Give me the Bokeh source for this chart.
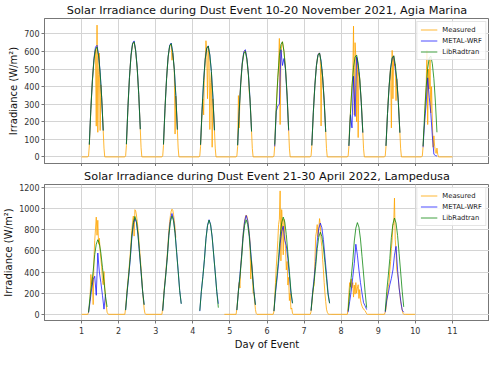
import numpy as np
from bokeh.plotting import figure
from bokeh.layouts import column
from bokeh.models import Range1d, FixedTicker, Legend, LegendItem, ColumnDataSource, Title
from bokeh.embed import file_html
from bokeh.resources import INLINE

NaN = float("nan")

# ---------------- Agia Marina, 10-20 November 2021 ----------------
AM_TITLE = "Solar Irradiance during Dust Event 10-20 November 2021, Agia Marina"
AM_DAYS = [1, 2, 3, 4, 5, 6, 7, 8, 9, 10]
AM_START, AM_END = 1.0, 11.0
AM_MODEL_HOURS = [5, 6, 7, 8, 9, 10, 11, 12, 13, 14]
AM_MEAS_HOURS = [4.0, 4.5, 5.0, 5.5, 6.0, 6.5, 7.0, 7.5, 8.0, 8.5, 9.0, 9.5,
                 10.0, 10.5, 11.0, 11.5, 12.0, 12.5, 13.0, 13.5, 14.0, 14.5, 15.0, 15.5]

AM_LIBRADTRAN = [
    [69, 269, 431, 550, 613, 625, 575, 481, 338, 150],
    [72, 282, 452, 576, 642, 655, 603, 504, 354, 157],
    [71, 277, 445, 568, 632, 645, 593, 497, 348, 155],
    [69, 271, 435, 554, 617, 630, 580, 485, 340, 151],
    [66, 258, 414, 528, 588, 600, 552, 462, 324, 144],
    [70, 280, 450, 575, 640, 655, 600, 500, 352, 155],
    [65, 254, 407, 519, 578, 590, 543, 454, 319, 142],
    [64, 249, 400, 510, 568, 580, 534, 447, 313, 139],
    [63, 247, 397, 506, 564, 575, 529, 443, 311, 138],
    [62, 245, 395, 505, 563, 574, 530, 445, 312, 140],
]
AM_METAL = [
    [72, 275, 438, 560, 625, 635, 580, 485, 340, 150],
    [73, 284, 455, 580, 647, 660, 607, 508, 356, 158],
    [71, 279, 447, 570, 635, 648, 596, 499, 350, 156],
    [69, 272, 436, 556, 620, 632, 580, 486, 341, 152],
    [67, 262, 421, 537, 598, 610, 561, 470, 329, 146],
    [60, 260, 290, 300, 610, 520, 560, 495, 345, 150],
    [66, 256, 410, 522, 582, 592, 545, 456, 320, 143],
    [62, 240, 165, 459, 230, 570, 520, 440, 310, 138],
    [63, 248, 398, 505, 560, 575, 500, 442, 310, 138],
    [55, 200, 300, 450, 340, 250, 120, 15, 8, 5],
]
AM_MEASURED = [
    [0, 5, 62, 170, 270, 365, 435, 500, 550, 590, 610, 175, 750, 140, 470, 590, 150, 410, 335, 250, 150, 50, 0, 0],
    [0, 6, 64, 175, 280, 378, 450, 521, 573, 613, 639, 652, 652, 632, 600, 554, 502, 430, 352, 260, 156, 52, 0, 0],
    [0, 6, 64, 173, 275, 371, 442, 512, 563, 602, 627, 640, 638, 550, 590, 544, 493, 130, 346, 256, 154, 51, 0, 0],
    [0, 5, 60, 165, 259, 330, 239, 480, 550, 661, 600, 331, 630, 551, 156, 423, 480, 55, 330, 245, 150, 50, 0, 0],
    [0, 5, 60, 349, 165, 350, 415, 485, 530, 570, 592, 605, 600, 585, 555, 515, 465, 369, 330, 245, 145, 48, 0, 0],
    [0, 5, 62, 175, 280, 375, 450, 520, 674, 184, 570, 640, 655, 630, 600, 550, 500, 430, 350, 260, 155, 50, 0, 0],
    [0, 5, 58, 160, 254, 342, 407, 472, 519, 555, 578, 590, 590, 572, 176, 500, 454, 389, 319, 236, 142, 47, 0, 0],
    [0, 5, 58, 184, 249, 330, 400, 460, 744, 239, 650, 570, 200, 560, 110, 480, 447, 380, 313, 232, 139, 46, 0, 0],
    [0, 5, 57, 155, 247, 333, 397, 460, 506, 165, 606, 331, 575, 520, 529, 320, 443, 380, 311, 230, 138, 46, 0, 0],
    [0, 5, 55, 150, 184, 330, 400, 606, 184, 500, 386, 560, 250, 400, 200, 55, 120, 60, 30, 20, 50, 15, 0, 0],
]
AM_YLIM = (-37.5, 787.5)
AM_YTICKS = [0, 100, 200, 300, 400, 500, 600, 700]

# ---------------- Lampedusa, 21-30 April 2022 ----------------
LP_TITLE = "Solar Irradiance during Dust Event 21-30 April 2022, Lampedusa"
LP_DAYS = [1, 2, 3, 4, 5, 6, 7, 8, 9]
LP_START, LP_END = 1.0, 10.0
LP_RESUME = [(4.85, 0)]   # measurements restart after the data gap
LP_MODEL_HOURS = [4.5, 5.5, 6.5, 7.5, 8.5, 9.5, 10.5, 11.5, 12.5, 13.5, 14.5, 15.5, 16.5]
LP_MEAS_HOURS = [4.0, 4.5, 5.0, 5.5, 6.0, 6.5, 7.0, 7.5, 8.0, 8.5, 9.0, 9.5, 10.0, 10.5,
                 11.0, 11.5, 12.0, 12.5, 13.0, 13.5, 14.0, 14.5, 15.0, 15.5, 16.0, 16.5, 17.0, 17.5]

LP_LIBRADTRAN = [
    [20, 169, 282, 409, 565, 664, 706, 671, 579, 445, 311, 169, 70],
    [40, 222, 370, 537, 741, 870, 926, 880, 759, 583, 407, 222, 90],
    [35, 223, 372, 539, 744, 874, 930, 884, 763, 586, 409, 223, 100],
    [34, 214, 356, 517, 713, 838, 891, 846, 731, 561, 392, 214, 63],
    [40, 215, 358, 519, 716, 841, 895, 850, 734, 564, 394, 215, 90],
    [30, 221, 368, 534, 736, 865, 920, 874, 754, 580, 405, 221, 105],
    [35, 186, 311, 451, 622, 730, 777, 738, 637, 490, 342, 186, 105],
    [34, 208, 347, 503, 694, 816, 868, 825, 712, 547, 382, 208, 63],
    [30, 219, 364, 528, 729, 856, 911, 865, 747, 574, 401, 219, 70],
]
LP_METAL = [
    [15, 120, 240, 330, 360, 180, 580, 400, 300, 180, 49, 190, NaN],
    [40, 210, 360, 520, 720, 850, 906, 870, 750, 575, 400, 215, 92],
    [34, 225, 380, 550, 760, 895, 954, 900, 775, 595, 415, 225, 100],
    [30, 215, 358, 520, 716, 842, 895, 850, 734, 564, 394, 215, 100],
    [40, 224, 374, 542, 748, 879, 935, 888, 767, 589, 411, 224, 90],
    [30, 200, 334, 484, 667, 784, 834, 700, 650, 525, 367, 200, 105],
    [35, 207, 345, 500, 690, 811, 863, 820, 708, 544, 380, 207, 105],
    [20, 120, 220, 350, 480, 663, 560, 420, 300, 200, 110, 80, 45],
    [20, 134, 200, 280, 340, 420, 560, 643, 420, 250, 134, 40, 20],
]
LP_MEASURED = [
    [0, 20, 80, 150, 377, 280, 350, 92, 520, 700, 806, 920, 748, 890, 663, 720, 600, 520, 450, 320, 280, 405, 250, 148, 80, 20, 5, 0],
    [0, 59, 149, 238, 317, 396, 485, 574, 683, 792, 871, 930, 740, 990, 980, 940, 881, 812, 723, 624, 535, 436, 327, 218, 129, 50, 10, 0],
    [0, 60, 149, 239, 318, 398, 488, 577, 687, 796, 876, 935, 975, 995, 985, 945, 886, 816, 726, NaN, NaN, NaN, NaN, NaN, NaN, NaN, NaN, NaN],
    None,
    [0, 56, 141, 226, 301, 249, 461, 545, 649, 752, 827, 884, 921, 940, 931, 893, 837, 771, 686, 334, 508, 414, 200, 207, 122, 47, 9, 0],
    [0, 30, 150, 300, 450, 563, 700, 849, 900, 1168, 506, 991, 850, 563, 900, 763, 620, 420, 500, 277, 350, 130, 200, 49, 60, 10, 0, 0],
    [0, 25, 100, 180, 250, 277, 500, 735, 780, 849, 734, 800, 906, 850, 700, 640, 520, 420, 300, 200, 120, 49, 20, 5, 0, 0, 0, 0],
    [0, 60, 200, 300, 260, 334, 250, 300, 163, 277, 191, 300, 200, 249, 280, 150, 234, 134, 100, 77, 60, 50, 40, 34, 20, 5, 0, 0],
    [0, 20, 50, 120, 191, 260, 300, 420, 500, 620, 700, 849, 850, 1100, 706, 600, 420, 380, 334, 250, 191, 120, 77, 40, 10, 0, 0, 0],
]
LP_YLIM = (-58.5, 1228.5)
LP_YTICKS = [0, 200, 400, 600, 800, 1000, 1200]

X_TICKS = [1, 2, 3, 4, 5, 6, 7, 8, 9, 10, 11]
X_RANGE = (0, 12)
X_LABEL = "Day of Event"
Y_LABEL = "Irradiance (W/m²)"
SERIES_LABELS = ["Measured", "METAL-WRF", "LibRadtran"]
COLORS = ["#FFA500", "#0000FF", "#008000"]
ALPHAS = [0.8, 0.7, 0.75]
FONT = "DejaVu Sans"


def model_xy(days, hours, values):
    xs, ys = [], []
    for d, vals in zip(days, values):
        for h, v in zip(hours, vals):
            xs.append(d + h / 24.0)
            ys.append(v)
        xs.append(NaN)
        ys.append(NaN)
    return np.array(xs, dtype=float), np.array(ys, dtype=float)


def measured_xy(days, hours, values, start, end, extra=()):
    pts = [(start, 0.0), (end, 0.0)] + [(float(a), float(b)) for a, b in extra]
    for d, vals in zip(days, values):
        if vals is None:
            continue
        for h, v in zip(hours, vals):
            pts.append((d + h / 24.0, v))
    pts.sort(key=lambda t: t[0])
    xs = np.array([p[0] for p in pts], dtype=float)
    ys = np.array([p[1] for p in pts], dtype=float)
    return xs, ys


def make_panel(title, days, mhours, meas_hours, lib, metal, meas, start, end,
               ylim, yticks, height, show_xlabels, extra=()):
    p = figure(width=489, height=height, x_range=Range1d(*X_RANGE),
               y_range=Range1d(*ylim), output_backend="svg",
               toolbar_location=None, title=title,
               min_border_left=34, min_border_right=0, min_border_top=1,
               min_border_bottom=0)
    p.background_fill_color = "white"
    p.border_fill_color = "white"
    p.outline_line_color = "#777777"
    p.outline_line_width = 1

    p.title.text_font = FONT
    p.title.text_font_size = "11.3px"
    p.title.text_font_style = "normal"
    p.title.text_color = "#111111"
    p.title.align = "center"
    p.title.standoff = 3

    p.xaxis.ticker = FixedTicker(ticks=X_TICKS)
    p.yaxis.ticker = FixedTicker(ticks=yticks)
    for ax in (p.xaxis[0], p.yaxis[0]):
        ax.axis_line_color = "#777777"
        ax.major_tick_line_color = "#777777"
        ax.minor_tick_line_color = None
        ax.major_tick_in = 0
        ax.major_tick_out = 3
        ax.major_label_text_font = FONT
        ax.major_label_text_font_size = "8px"
        ax.major_label_text_color = "#333333"
        ax.major_label_standoff = 2
        ax.axis_label_text_font = FONT
        ax.axis_label_text_font_style = "normal"
        ax.axis_label_text_font_size = "10px"
        ax.axis_label_text_color = "#111111"
        ax.axis_label_standoff = 2
    p.yaxis.axis_label = Y_LABEL
    if show_xlabels:
        p.xaxis.major_label_standoff = 3
        xt = Title(text=X_LABEL, align="center", text_font=FONT,
                   text_font_size="10px", text_font_style="normal",
                   text_color="#111111", standoff=0, offset=0)
        p.add_layout(xt, "below")
    else:
        p.xaxis.major_label_text_color = None
        p.xaxis.major_label_text_font_size = "1px"
        p.xaxis.major_label_standoff = 0

    p.xgrid.grid_line_color = "#d4d4d4"
    p.ygrid.grid_line_color = "#d4d4d4"
    p.xgrid.grid_line_width = 1
    p.ygrid.grid_line_width = 1

    mx, my = measured_xy(days, meas_hours, meas, start, end, extra)
    wx, wy = model_xy(days, mhours, metal)
    lx, ly = model_xy(days, mhours, lib)

    r_meas = p.line(x="x", y="y", source=ColumnDataSource(dict(x=mx, y=my)),
                    line_color=COLORS[0], line_alpha=ALPHAS[0], line_width=1)
    r_metal = p.line(x="x", y="y", source=ColumnDataSource(dict(x=wx, y=wy)),
                     line_color=COLORS[1], line_alpha=ALPHAS[1], line_width=1)
    r_lib = p.line(x="x", y="y", source=ColumnDataSource(dict(x=lx, y=ly)),
                   line_color=COLORS[2], line_alpha=ALPHAS[2], line_width=1)

    legend = Legend(items=[LegendItem(label=SERIES_LABELS[0], renderers=[r_meas]),
                           LegendItem(label=SERIES_LABELS[1], renderers=[r_metal]),
                           LegendItem(label=SERIES_LABELS[2], renderers=[r_lib])],
                    location="top_right")
    legend.label_text_font = FONT
    legend.label_text_font_size = "6.8px"
    legend.label_text_color = "#222222"
    legend.glyph_width = 17
    legend.glyph_height = 9
    legend.label_height = 9
    legend.label_standoff = 5
    legend.spacing = 2
    legend.padding = 3
    legend.margin = 3
    legend.border_line_color = "#cccccc"
    legend.background_fill_alpha = 0.85
    p.add_layout(legend)
    return p


p1 = make_panel(AM_TITLE, AM_DAYS, AM_MODEL_HOURS, AM_MEAS_HOURS, AM_LIBRADTRAN,
                AM_METAL, AM_MEASURED, AM_START, AM_END, AM_YLIM, AM_YTICKS,
                height=166, show_xlabels=False)
p2 = make_panel(LP_TITLE, LP_DAYS, LP_MODEL_HOURS, LP_MEAS_HOURS, LP_LIBRADTRAN,
                LP_METAL, LP_MEASURED, LP_START, LP_END, LP_YLIM, LP_YTICKS,
                height=183, show_xlabels=True, extra=LP_RESUME)

layout = column(p1, p2, spacing=0)
open("out.html", "w").write(file_html(layout, INLINE))
